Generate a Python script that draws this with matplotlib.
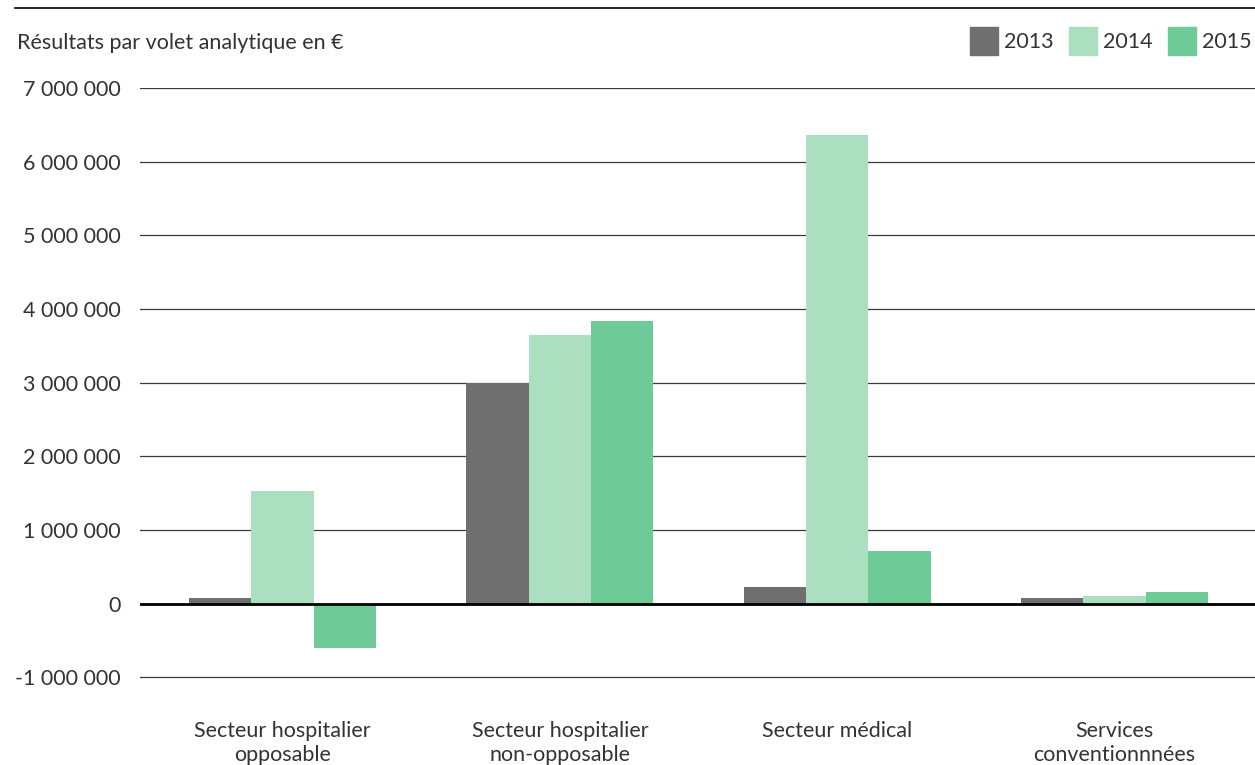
import matplotlib
matplotlib.use("Agg")
import matplotlib.pyplot as plt
import numpy as np
from matplotlib.patches import Patch
from matplotlib.ticker import FuncFormatter

categories = ["Secteur hospitalier\nopposable", "Secteur hospitalier\nnon-opposable",
              "Secteur médical", "Services\nconventionnnées"]
years = ["2013", "2014", "2015"]
v2013 = [80000, 3000000, 230000, 70000]
v2014 = [1530000, 3650000, 6360000, 110000]
v2015 = [-600000, 3830000, 710000, 160000]
colors = ["#6f6f6f", "#acdec0", "#6ecb97"]
yticks = [-1000000, 0, 1000000, 2000000, 3000000, 4000000, 5000000, 6000000, 7000000]

plt.rcParams['font.family'] = ['Lato', 'DejaVu Sans']
txt = "#333333"
fs = 15.5

fig = plt.figure(figsize=(12.55, 7.65), dpi=100)
ax = fig.add_axes([140/1255, 1-692/765, 1-140/1255, (692-88)/765])

x = np.arange(len(categories))
w = 0.2247
for i, (vals, c) in enumerate(zip([v2013, v2014, v2015], colors)):
    ax.bar(x + (i-1)*w, vals, width=w, color=c, zorder=3)

ax.set_xlim(-0.514, 3.507)
ax.set_ylim(-1200000, 7000000)
ax.set_yticks(yticks)
ax.yaxis.set_major_formatter(FuncFormatter(lambda v, p: f"{int(v):,}".replace(",", " ")))
ax.grid(axis='y', color="#3a3a3a", linewidth=0.9, zorder=1)
ax.axhline(0, color="black", linewidth=2, zorder=4)
for s in ax.spines.values():
    s.set_visible(False)
ax.tick_params(axis='y', length=0, pad=14, labelsize=fs, labelcolor=txt)
ax.tick_params(axis='x', length=0, pad=21, labelsize=fs, labelcolor=txt)
ax.set_xticks(x)
ax.set_xticklabels(categories, linespacing=1.22)

fig.add_artist(plt.Line2D([15/1255, 1], [1-8/765, 1-8/765], color="black", linewidth=1.2))
fig.text(17/1255, 1-43/765, "Résultats par volet analytique en €", fontsize=fs,
         color=txt, va='center', ha='left')

handles = [Patch(color=c) for c in colors]
leg = fig.legend(handles, years, loc='center right', bbox_to_anchor=(1252/1255, 1-41/765), ncol=3,
                 frameon=False, fontsize=fs, handlelength=1.3, handleheight=1.63,
                 handletextpad=0.3, columnspacing=0.7, borderaxespad=0, borderpad=0)
for t in leg.get_texts():
    t.set_color(txt)

fig.savefig("out.png", dpi=100)
